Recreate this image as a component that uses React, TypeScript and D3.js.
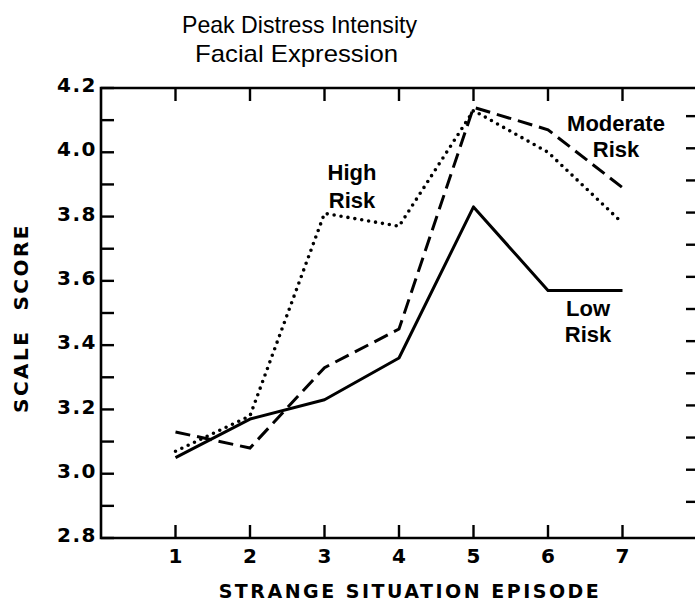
import React from "react";
import { scaleLinear, line, range } from "d3";

const episodes = [1, 2, 3, 4, 5, 6, 7];
const lowRisk = [3.05, 3.17, 3.23, 3.36, 3.83, 3.57, 3.57];
const moderateRisk = [3.13, 3.08, 3.33, 3.45, 4.14, 4.07, 3.89];
const highRisk = [3.07, 3.18, 3.81, 3.77, 4.13, 4.0, 3.78];
const yTickLabels = [2.8, 3.0, 3.2, 3.4, 3.6, 3.8, 4.0, 4.2];

const width = 695;
const height = 605;

const App = () => {
  const x = scaleLinear().domain([0, 8]).range([101, 697]);
  const y = scaleLinear().domain([2.8, 4.2]).range([538, 88]);

  const path = line<number>()
    .x((_, i) => x(episodes[i]))
    .y((d) => y(d));

  const minorTicks = range(28, 43).map((v) => v / 10);
  const font = "'Liberation Sans', Arial, sans-serif";
  const wide = "'DejaVu Sans', sans-serif";

  return (
    <svg
      width={width}
      height={height}
      style={{ position: "absolute", left: 0, top: 0, background: "#fff" }}
    >
      {/* title */}
      <g fontFamily={font} fontSize={24} fill="#000">
        <text x={182} y={33} textLength={235} lengthAdjust="spacingAndGlyphs">
          Peak Distress Intensity
        </text>
        <text x={195} y={62} textLength={203} lengthAdjust="spacingAndGlyphs">
          Facial Expression
        </text>
      </g>

      {/* frame */}
      <path
        d={`M${width},${y(4.2)}H${x(0)}V${y(2.8)}H${width}`}
        fill="none"
        stroke="#000"
        strokeWidth={2.6}
      />

      {/* left ticks every 0.1 */}
      {minorTicks.map((t) => (
        <line key={"l" + t} x1={x(0)} x2={x(0) + 13} y1={y(t)} y2={y(t)} stroke="#000" strokeWidth={2.4} />
      ))}
      {/* right ticks */}
      {minorTicks.slice(1, -1).map((t) => (
        <line key={"r" + t} x1={686} x2={width} y1={y(t) - 4} y2={y(t) - 4} stroke="#000" strokeWidth={2.4} />
      ))}
      {/* top and bottom ticks */}
      {episodes.map((e) => (
        <g key={"x" + e}>
          <line x1={x(e)} x2={x(e)} y1={y(4.2)} y2={y(4.2) + 13} stroke="#000" strokeWidth={2.4} />
          <line x1={x(e)} x2={x(e)} y1={y(2.8)} y2={y(2.8) - 13} stroke="#000" strokeWidth={2.4} />
        </g>
      ))}

      {/* y tick labels */}
      <g fontFamily={wide} fontSize={20} fontWeight="bold" fill="#000" textAnchor="end">
        {yTickLabels.map((t) => (
          <text key={t} x={97} y={y(t) - 3} dy="0.36em" letterSpacing={1.5}>
            {t.toFixed(1)}
          </text>
        ))}
      </g>

      {/* x tick labels */}
      <g fontFamily={wide} fontSize={20} fontWeight="bold" fill="#000" textAnchor="middle">
        {episodes.map((e) => (
          <text key={e} x={x(e)} y={563}>
            {e}
          </text>
        ))}
      </g>

      {/* axis titles */}
      <text
        x={410}
        y={598}
        fontFamily={wide}
        fontSize={19}
        fontWeight="bold"
        textAnchor="middle"
        letterSpacing={2.5}
      >
        STRANGE SITUATION EPISODE
      </text>
      <text
        transform="translate(28,318) rotate(-90)"
        fontFamily={wide}
        fontSize={20}
        fontWeight="bold"
        textAnchor="middle"
        letterSpacing={2.5}
        style={{ whiteSpace: "pre" }}
      >
        {"SCALE  SCORE"}
      </text>

      {/* series */}
      <path d={path(lowRisk) ?? ""} fill="none" stroke="#000" strokeWidth={3} strokeLinejoin="round" />
      <path
        d={path(moderateRisk) ?? ""}
        fill="none"
        stroke="#000"
        strokeWidth={3}
        strokeDasharray="15 7"
      />
      <path
        d={path(highRisk) ?? ""}
        fill="none"
        stroke="#000"
        strokeWidth={3.6}
        strokeDasharray="0 7"
        strokeLinecap="round"
      />

      {/* series labels */}
      <g fontFamily={font} fontSize={22} fontWeight="bold" fill="#000" textAnchor="middle">
        <text x={352} y={180}>High</text>
        <text x={352} y={208}>Risk</text>
        <text x={616} y={131}>Moderate</text>
        <text x={616} y={157}>Risk</text>
        <text x={588} y={316}>Low</text>
        <text x={588} y={342}>Risk</text>
      </g>
    </svg>
  );
};

export default App;
